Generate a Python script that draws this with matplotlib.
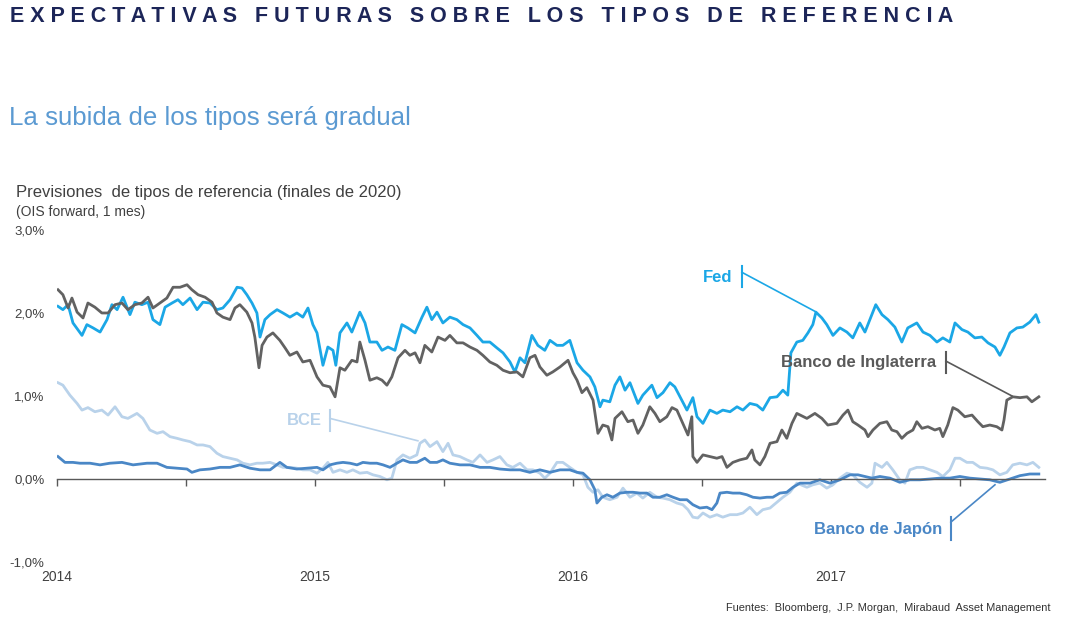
import matplotlib
matplotlib.use("Agg")
import matplotlib.pyplot as plt

plt.rcParams['font.family'] = ['Liberation Sans', 'DejaVu Sans']

# decimal years / rate (%)
fed_t = [2014.004, 2014.023, 2014.043, 2014.062, 2014.097, 2014.116, 2014.140, 2014.167, 2014.194, 2014.213,
         2014.233, 2014.256, 2014.283, 2014.302, 2014.329, 2014.353, 2014.372, 2014.399, 2014.419, 2014.446,
         2014.469, 2014.488, 2014.516, 2014.543, 2014.566, 2014.593, 2014.620, 2014.643, 2014.671, 2014.698,
         2014.717, 2014.736, 2014.756, 2014.775, 2014.787, 2014.806, 2014.826, 2014.853, 2014.876, 2014.903,
         2014.930, 2014.953, 2014.973, 2014.992, 2015.008, 2015.031, 2015.050, 2015.070, 2015.081, 2015.097,
         2015.124, 2015.143, 2015.174, 2015.194, 2015.213, 2015.240, 2015.260, 2015.283, 2015.310, 2015.337,
         2015.360, 2015.388, 2015.415, 2015.434, 2015.453, 2015.473, 2015.496, 2015.523, 2015.550, 2015.574,
         2015.601, 2015.628, 2015.651, 2015.678, 2015.705, 2015.729, 2015.756, 2015.775, 2015.795, 2015.814,
         2015.841, 2015.864, 2015.891, 2015.911, 2015.938, 2015.961, 2015.988, 2016.016, 2016.039, 2016.066,
         2016.085, 2016.105, 2016.116, 2016.143, 2016.163, 2016.182, 2016.202, 2016.221, 2016.252, 2016.271,
         2016.306, 2016.326, 2016.349, 2016.376, 2016.395, 2016.415, 2016.442, 2016.465, 2016.481, 2016.504,
         2016.531, 2016.558, 2016.581, 2016.609, 2016.636, 2016.659, 2016.686, 2016.713, 2016.736, 2016.764,
         2016.791, 2016.814, 2016.833, 2016.845, 2016.868, 2016.891, 2016.911, 2016.930, 2016.942, 2016.965,
         2016.984, 2017.008, 2017.035, 2017.062, 2017.085, 2017.112, 2017.132, 2017.151, 2017.174, 2017.198,
         2017.221, 2017.248, 2017.275, 2017.298, 2017.333, 2017.357, 2017.384, 2017.411, 2017.434, 2017.461,
         2017.481, 2017.508, 2017.531, 2017.558, 2017.585, 2017.609, 2017.636, 2017.655, 2017.671, 2017.694,
         2017.721, 2017.744, 2017.771, 2017.795, 2017.806]
fed_v = [2.08, 2.04, 2.10, 1.88, 1.73, 1.86, 1.82, 1.77, 1.92, 2.10,
         2.04, 2.19, 1.98, 2.13, 2.10, 2.13, 1.92, 1.86, 2.07, 2.12,
         2.16, 2.10, 2.18, 2.04, 2.13, 2.12, 2.04, 2.06, 2.16, 2.31,
         2.30, 2.22, 2.12, 2.00, 1.71, 1.92, 1.98, 2.04, 2.00, 1.95,
         2.00, 1.95, 2.06, 1.86, 1.76, 1.37, 1.59, 1.55, 1.37, 1.76,
         1.88, 1.77, 2.01, 1.88, 1.65, 1.65, 1.55, 1.59, 1.55, 1.86,
         1.82, 1.76, 1.95, 2.07, 1.92, 2.01, 1.88, 1.95, 1.92, 1.86,
         1.82, 1.73, 1.65, 1.65, 1.58, 1.52, 1.41, 1.29, 1.46, 1.40,
         1.73, 1.61, 1.55, 1.67, 1.61, 1.61, 1.67, 1.40, 1.31, 1.23,
         1.11, 0.87, 0.95, 0.93, 1.13, 1.23, 1.07, 1.16, 0.91, 1.01,
         1.13, 0.98, 1.04, 1.16, 1.11, 0.99, 0.83, 0.98, 0.75, 0.67,
         0.83, 0.79, 0.83, 0.81, 0.87, 0.83, 0.91, 0.89, 0.83, 0.98,
         0.99, 1.07, 1.01, 1.52, 1.65, 1.67, 1.76, 1.86, 2.01, 1.94,
         1.86, 1.73, 1.82, 1.77, 1.70, 1.88, 1.77, 1.92, 2.10, 1.98,
         1.92, 1.83, 1.65, 1.82, 1.88, 1.77, 1.73, 1.65, 1.70, 1.65,
         1.88, 1.80, 1.77, 1.70, 1.71, 1.64, 1.59, 1.49, 1.59, 1.76,
         1.82, 1.83, 1.89, 1.98, 1.89]

boe_t = [2014.004, 2014.023, 2014.043, 2014.058, 2014.078, 2014.101, 2014.120, 2014.147, 2014.174, 2014.198,
         2014.225, 2014.252, 2014.275, 2014.302, 2014.329, 2014.353, 2014.372, 2014.399, 2014.426, 2014.450,
         2014.477, 2014.504, 2014.523, 2014.547, 2014.574, 2014.601, 2014.620, 2014.643, 2014.671, 2014.690,
         2014.709, 2014.736, 2014.756, 2014.767, 2014.783, 2014.795, 2014.814, 2014.837, 2014.864, 2014.884,
         2014.903, 2014.930, 2014.953, 2014.981, 2015.008, 2015.031, 2015.058, 2015.078, 2015.097, 2015.116,
         2015.143, 2015.163, 2015.174, 2015.194, 2015.213, 2015.240, 2015.260, 2015.279, 2015.298, 2015.322,
         2015.349, 2015.368, 2015.388, 2015.407, 2015.426, 2015.453, 2015.477, 2015.504, 2015.523, 2015.550,
         2015.574, 2015.601, 2015.628, 2015.651, 2015.678, 2015.705, 2015.729, 2015.756, 2015.783, 2015.806,
         2015.833, 2015.853, 2015.872, 2015.899, 2015.922, 2015.950, 2015.981, 2016.000, 2016.016, 2016.035,
         2016.054, 2016.078, 2016.097, 2016.116, 2016.136, 2016.151, 2016.163, 2016.190, 2016.213, 2016.233,
         2016.252, 2016.271, 2016.298, 2016.318, 2016.337, 2016.364, 2016.384, 2016.403, 2016.426, 2016.446,
         2016.461, 2016.465, 2016.481, 2016.504, 2016.531, 2016.558, 2016.578, 2016.597, 2016.620, 2016.647,
         2016.674, 2016.694, 2016.705, 2016.725, 2016.744, 2016.764, 2016.791, 2016.810, 2016.829, 2016.849,
         2016.868, 2016.907, 2016.938, 2016.965, 2016.988, 2017.023, 2017.047, 2017.066, 2017.085, 2017.105,
         2017.132, 2017.144, 2017.163, 2017.190, 2017.217, 2017.236, 2017.256, 2017.275, 2017.295, 2017.318,
         2017.333, 2017.353, 2017.376, 2017.403, 2017.422, 2017.434, 2017.453, 2017.473, 2017.492, 2017.519,
         2017.547, 2017.570, 2017.589, 2017.616, 2017.643, 2017.663, 2017.671, 2017.682, 2017.705, 2017.733,
         2017.760, 2017.779, 2017.806]
boe_v = [2.28, 2.22, 2.06, 2.18, 2.01, 1.94, 2.12, 2.07, 2.00, 2.00,
         2.10, 2.12, 2.04, 2.10, 2.12, 2.19, 2.06, 2.12, 2.18, 2.31,
         2.31, 2.34, 2.28, 2.22, 2.19, 2.13, 2.00, 1.95, 1.92, 2.06,
         2.10, 2.01, 1.88, 1.71, 1.34, 1.61, 1.71, 1.76, 1.67, 1.58,
         1.49, 1.53, 1.41, 1.43, 1.23, 1.13, 1.11, 0.99, 1.34, 1.31,
         1.43, 1.41, 1.65, 1.43, 1.19, 1.22, 1.19, 1.13, 1.23, 1.46,
         1.55, 1.49, 1.52, 1.40, 1.61, 1.53, 1.71, 1.67, 1.73, 1.64,
         1.64, 1.59, 1.55, 1.49, 1.41, 1.37, 1.31, 1.28, 1.29, 1.23,
         1.46, 1.49, 1.35, 1.25, 1.29, 1.35, 1.43, 1.28, 1.19, 1.04,
         1.10, 0.95, 0.55, 0.65, 0.63, 0.47, 0.73, 0.81, 0.69, 0.71,
         0.55, 0.65, 0.87, 0.79, 0.69, 0.75, 0.86, 0.83, 0.67, 0.53,
         0.75, 0.27, 0.20, 0.29, 0.27, 0.25, 0.27, 0.14, 0.20, 0.23,
         0.25, 0.35, 0.23, 0.17, 0.27, 0.43, 0.45, 0.59, 0.49, 0.67,
         0.79, 0.73, 0.79, 0.73, 0.65, 0.67, 0.77, 0.83, 0.69, 0.65,
         0.59, 0.51, 0.59, 0.67, 0.69, 0.59, 0.57, 0.49, 0.55, 0.59,
         0.69, 0.61, 0.63, 0.59, 0.61, 0.51, 0.65, 0.86, 0.83, 0.75,
         0.77, 0.69, 0.63, 0.65, 0.63, 0.59, 0.71, 0.95, 0.99, 0.98,
         0.99, 0.93, 0.99]

bce_t = [2014.004, 2014.023, 2014.050, 2014.078, 2014.097, 2014.120, 2014.147, 2014.174, 2014.198, 2014.225,
         2014.252, 2014.275, 2014.310, 2014.333, 2014.360, 2014.388, 2014.411, 2014.438, 2014.465, 2014.488,
         2014.516, 2014.543, 2014.566, 2014.593, 2014.620, 2014.643, 2014.671, 2014.698, 2014.721, 2014.748,
         2014.775, 2014.798, 2014.826, 2014.853, 2014.876, 2014.903, 2014.930, 2014.953, 2014.981, 2015.008,
         2015.031, 2015.050, 2015.070, 2015.097, 2015.124, 2015.147, 2015.174, 2015.202, 2015.225, 2015.252,
         2015.279, 2015.298, 2015.318, 2015.341, 2015.368, 2015.395, 2015.407, 2015.426, 2015.446, 2015.473,
         2015.496, 2015.516, 2015.535, 2015.562, 2015.589, 2015.612, 2015.640, 2015.667, 2015.690, 2015.717,
         2015.744, 2015.767, 2015.795, 2015.822, 2015.845, 2015.872, 2015.891, 2015.911, 2015.938, 2015.961,
         2015.988, 2016.016, 2016.039, 2016.058, 2016.078, 2016.097, 2016.116, 2016.143, 2016.171, 2016.194,
         2016.221, 2016.248, 2016.271, 2016.298, 2016.326, 2016.349, 2016.376, 2016.403, 2016.426, 2016.446,
         2016.465, 2016.484, 2016.504, 2016.531, 2016.558, 2016.581, 2016.609, 2016.636, 2016.659, 2016.686,
         2016.713, 2016.736, 2016.764, 2016.791, 2016.814, 2016.841, 2016.868, 2016.907, 2016.930, 2016.957,
         2016.984, 2017.008, 2017.035, 2017.062, 2017.085, 2017.112, 2017.140, 2017.159, 2017.171, 2017.198,
         2017.217, 2017.240, 2017.267, 2017.287, 2017.306, 2017.333, 2017.357, 2017.384, 2017.411, 2017.434,
         2017.461, 2017.481, 2017.500, 2017.527, 2017.550, 2017.578, 2017.605, 2017.628, 2017.655, 2017.682,
         2017.705, 2017.733, 2017.760, 2017.783, 2017.806]
bce_v = [1.16, 1.13, 1.01, 0.91, 0.83, 0.86, 0.81, 0.83, 0.77, 0.87,
         0.75, 0.73, 0.79, 0.73, 0.59, 0.55, 0.57, 0.51, 0.49, 0.47,
         0.45, 0.41, 0.41, 0.39, 0.31, 0.27, 0.25, 0.23, 0.19, 0.17,
         0.19, 0.19, 0.20, 0.17, 0.14, 0.14, 0.13, 0.11, 0.11, 0.07,
         0.13, 0.20, 0.08, 0.11, 0.08, 0.11, 0.07, 0.08, 0.05, 0.03,
         -0.01, 0.01, 0.23, 0.29, 0.25, 0.29, 0.43, 0.47, 0.39, 0.45,
         0.33, 0.43, 0.29, 0.27, 0.23, 0.20, 0.29, 0.20, 0.23, 0.27,
         0.17, 0.14, 0.19, 0.11, 0.11, 0.07, 0.01, 0.07, 0.20, 0.20,
         0.14, 0.08, 0.05, -0.10, -0.16, -0.13, -0.22, -0.25, -0.22, -0.11,
         -0.22, -0.17, -0.23, -0.16, -0.22, -0.23, -0.25, -0.29, -0.31, -0.37,
         -0.46, -0.47, -0.41, -0.46, -0.43, -0.46, -0.43, -0.43, -0.41, -0.34,
         -0.43, -0.37, -0.35, -0.28, -0.22, -0.16, -0.05, -0.10, -0.07, -0.05,
         -0.11, -0.07, 0.01, 0.07, 0.05, -0.04, -0.10, -0.05, 0.19, 0.14,
         0.20, 0.11, -0.01, -0.05, 0.11, 0.14, 0.14, 0.11, 0.08, 0.03,
         0.11, 0.25, 0.25, 0.20, 0.20, 0.14, 0.13, 0.11, 0.05, 0.08,
         0.17, 0.19, 0.17, 0.20, 0.14]

boj_t = [2014.004, 2014.031, 2014.062, 2014.089, 2014.128, 2014.167, 2014.205, 2014.252, 2014.295, 2014.349,
         2014.388, 2014.426, 2014.465, 2014.504, 2014.523, 2014.554, 2014.593, 2014.632, 2014.671, 2014.709,
         2014.748, 2014.787, 2014.826, 2014.864, 2014.891, 2014.930, 2014.969, 2015.008, 2015.031, 2015.058,
         2015.085, 2015.109, 2015.136, 2015.163, 2015.186, 2015.213, 2015.240, 2015.264, 2015.291, 2015.318,
         2015.341, 2015.368, 2015.395, 2015.426, 2015.446, 2015.473, 2015.496, 2015.523, 2015.562, 2015.601,
         2015.640, 2015.678, 2015.717, 2015.756, 2015.795, 2015.833, 2015.872, 2015.911, 2015.950, 2015.988,
         2016.016, 2016.039, 2016.066, 2016.085, 2016.093, 2016.112, 2016.132, 2016.155, 2016.182, 2016.209,
         2016.233, 2016.260, 2016.287, 2016.310, 2016.337, 2016.364, 2016.388, 2016.415, 2016.442, 2016.465,
         2016.492, 2016.519, 2016.539, 2016.558, 2016.570, 2016.597, 2016.620, 2016.647, 2016.674, 2016.698,
         2016.725, 2016.752, 2016.775, 2016.802, 2016.829, 2016.853, 2016.880, 2016.919, 2016.957, 2016.996,
         2017.035, 2017.074, 2017.105, 2017.132, 2017.159, 2017.190, 2017.229, 2017.267, 2017.306, 2017.345,
         2017.384, 2017.422, 2017.461, 2017.500, 2017.539, 2017.578, 2017.616, 2017.655, 2017.694, 2017.733,
         2017.771, 2017.806]
boj_v = [0.27, 0.20, 0.20, 0.19, 0.19, 0.17, 0.19, 0.20, 0.17, 0.19,
         0.19, 0.14, 0.13, 0.12, 0.08, 0.11, 0.12, 0.14, 0.14, 0.17,
         0.13, 0.11, 0.11, 0.20, 0.14, 0.12, 0.13, 0.14, 0.11, 0.17,
         0.19, 0.20, 0.19, 0.17, 0.20, 0.19, 0.19, 0.17, 0.14, 0.19,
         0.23, 0.20, 0.20, 0.25, 0.20, 0.20, 0.23, 0.19, 0.17, 0.17,
         0.14, 0.14, 0.12, 0.11, 0.11, 0.08, 0.11, 0.08, 0.11, 0.11,
         0.08, 0.07, -0.01, -0.13, -0.29, -0.22, -0.19, -0.22, -0.17, -0.16,
         -0.16, -0.17, -0.17, -0.22, -0.22, -0.19, -0.22, -0.25, -0.25, -0.31,
         -0.35, -0.34, -0.37, -0.29, -0.17, -0.16, -0.17, -0.17, -0.19, -0.22,
         -0.23, -0.22, -0.22, -0.17, -0.16, -0.10, -0.05, -0.05, -0.01, -0.05,
         -0.01, 0.05, 0.05, 0.03, 0.01, 0.03, 0.01, -0.04, -0.01, -0.01,
         0.00, 0.01, 0.01, 0.03, 0.01, 0.00, -0.01, -0.04, 0.00, 0.04,
         0.06, 0.06]

y_ticks = [-1, 0, 1, 2, 3]
y_labels = ['-1,0%', '0,0%', '1,0%', '2,0%', '3,0%']
years = [2014, 2015, 2016, 2017]

fed_col = '#1ba7e6'
boe_col = '#626262'
bce_col = '#b9d2ea'
boj_col = '#4a87c6'
txt_col = '#404040'

fig = plt.figure(figsize=(10.77, 6.27), dpi=100)
ax = fig.add_axes([0.0529, 0.1037, 0.9174, 0.5295])

ax.plot(bce_t, bce_v, color=bce_col, lw=2.0, solid_joinstyle='round')
ax.plot(boj_t, boj_v, color=boj_col, lw=2.0, solid_joinstyle='round')
ax.plot(fed_t, fed_v, color=fed_col, lw=2.0, solid_joinstyle='round')
ax.plot(boe_t, boe_v, color=boe_col, lw=2.0, solid_joinstyle='round')

ax.set_xlim(2014, 2017.83)
ax.set_ylim(-1, 3)
for s in ['top', 'right', 'left']:
    ax.spines[s].set_visible(False)
ax.spines['bottom'].set_position(('data', 0))
ax.spines['bottom'].set_color('#595959')
ax.spines['bottom'].set_linewidth(1.0)
ax.set_xticks([y + h for y in years for h in (0, 0.5)])
ax.tick_params(axis='x', direction='out', length=5, width=1, color='#595959', labelbottom=False)
ax.set_yticks(y_ticks)
ax.set_yticklabels(y_labels)
ax.tick_params(axis='y', length=0, pad=9, labelsize=9.5, labelcolor=txt_col)

for yr in years:
    ax.text(yr, -1.1, str(yr), ha='center', va='top', fontsize=10, color=txt_col)

# series labels with leader lines
labels = [
    ('Fed', fed_col, 2016.62, 2.43, 2016.655, (2.31, 2.57), 2.49, (2016.938, 2.02)),
    ('Banco de Inglaterra', '#595959', 2017.407, 1.40, 2017.446, (1.28, 1.53), 1.42, (2017.702, 1.00)),
    ('BCE', bce_col, 2015.027, 0.70, 2015.058, (0.58, 0.83), 0.73, (2015.399, 0.46)),
    ('Banco de Japón', boj_col, 2017.43, -0.61, 2017.465, (-0.73, -0.46), -0.52, (2017.636, -0.07)),
]
for name, col, tx, ty, bx, (b0, b1), ly, (ex, ey) in labels:
    ax.text(tx, ty, name, ha='right', va='center', fontsize=12, fontweight='bold', color=col)
    ax.plot([bx, bx], [b0, b1], color=col, lw=1.5)
    ax.plot([bx, ex], [ly, ey], color=col, lw=1.2)

title = 'EXPECTATIVAS FUTURAS SOBRE LOS TIPOS DE REFERENCIA'
spaced = '   '.join(' '.join(w) for w in title.split())
fig.text(10 / 1077, 1 - 16 / 627, spaced, ha='left', va='center', fontsize=15.5,
         fontweight='bold', color='#1c2558')
fig.text(9 / 1077, 1 - 118 / 627, 'La subida de los tipos será gradual', ha='left', va='center',
         fontsize=18.6, color='#5b9ad2')
fig.text(16 / 1077, 1 - 192 / 627, 'Previsiones  de tipos de referencia (finales de 2020)', ha='left',
         va='center', fontsize=12, color=txt_col)
fig.text(16 / 1077, 1 - 212 / 627, '(OIS forward, 1 mes)', ha='left', va='center', fontsize=10,
         color=txt_col)
fig.text(1050 / 1077, 1 - 608 / 627, 'Fuentes:  Bloomberg,  J.P. Morgan,  Mirabaud  Asset Management',
         ha='right', va='center', fontsize=7.9, color='#333333')

fig.savefig('out.png', dpi=100)
